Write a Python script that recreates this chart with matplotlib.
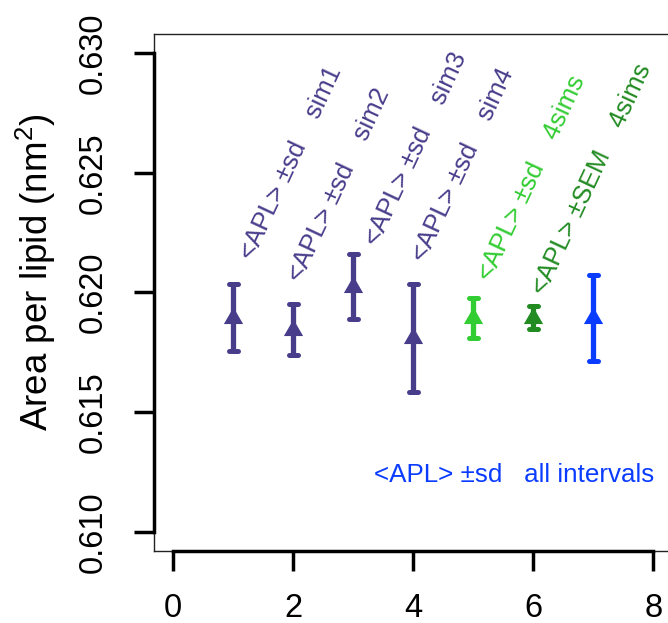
"""Area per lipid: mean and spread for the single runs and the pooled runs."""
import matplotlib
matplotlib.use("Agg")
import matplotlib.pyplot as plt
import numpy as np

plt.rcParams["font.family"] = ["Liberation Sans", "DejaVu Sans"]
plt.rcParams["mathtext.fontset"] = "custom"
plt.rcParams["mathtext.rm"] = "Liberation Sans"
plt.rcParams["mathtext.it"] = "Liberation Sans:italic"

# mean APL and its spread (sd or SEM) for each entry
run_index = [1, 2, 3, 4, 5, 6, 7]
apl_mean = [0.61895, 0.61845, 0.62025, 0.61809, 0.61894, 0.61895, 0.61894]
apl_spread = [0.00139, 0.00106, 0.00136, 0.00226, 0.00082, 0.00049, 0.00178]
run_labels = [
    "<APL> ±sd    sim1",
    "<APL> ±sd    sim2",
    "<APL> ±sd    sim3",
    "<APL> ±sd    sim4",
    "<APL> ±sd    4sims",
    "<APL> ±SEM    4sims",
]
all_label = "<APL> ±sd   all intervals"

# where the rotated labels start (data units)
label_x = [1.33, 2.14, 3.41, 4.20, 5.30, 6.20]
label_y = [0.62130, 0.62040, 0.62190, 0.62124, 0.62043, 0.61985]

PURPLE = "#483D8B"
colors = [PURPLE] * 4 + ["#32CD32", "#228B22", "#0A3CFF"]

# equilateral triangle centred on its centroid (like R's pch 17)
tri = [(0, 1), (-0.866, -0.5), (0.866, -0.5), (0, 1)]

fig = plt.figure(figsize=(6.68, 6.23), dpi=100)
ax = fig.add_axes([0.2302, 0.11525, 0.7764, 0.8305])

x = np.array(run_index, dtype=float)
mean = np.array(apl_mean)
spread = np.array(apl_spread)
lo, hi = mean - spread, mean + spread

ax.vlines(x, lo, hi, colors=colors, lw=3.8, capstyle="butt", zorder=2)
cap_w = 0.075
ax.hlines(np.r_[lo, hi], np.r_[x, x] - cap_w, np.r_[x, x] + cap_w,
          colors=colors + colors, lw=3.6, capstyle="round", zorder=2)
for xi, yi, c in zip(x, mean, colors):
    ax.plot(xi, yi, marker=tri, ms=16, color=c, mec="none", zorder=3)

for tx, ty, txt, c in zip(label_x, label_y, run_labels, colors):
    ax.text(tx, ty, txt, rotation=65, rotation_mode="anchor", ha="left",
            va="baseline", fontsize=18.5, color=c)
ax.text(3.35, 0.61210, all_label, ha="left", va="baseline", fontsize=18.7,
        color=colors[-1])

xt = [0, 2, 4, 6, 8]
yt = [0.610, 0.615, 0.620, 0.625, 0.630]
ax.set_xlim(-0.32, 8.32)
ax.set_ylim(0.6092, 0.6308)
ax.set_xticks(xt)
ax.set_yticks(yt)
ax.set_yticklabels([f"{v:.3f}" for v in yt], rotation=90, va="center")
ax.tick_params(width=2.5, length=14.4, labelsize=23.5, color="black")
ax.tick_params(axis="x", pad=16)
ax.tick_params(axis="y", pad=18)

for sp in ax.spines.values():
    sp.set_linewidth(1.0)
    sp.set_color("#222222")

# R-style axis lines running from first to last tick
ax.plot([-0.32, -0.32], [yt[0], yt[-1]], color="black", lw=2.5,
        clip_on=False, solid_capstyle="projecting", zorder=4)
ax.plot([xt[0], xt[-1]], [0.6092, 0.6092], color="black", lw=2.5,
        clip_on=False, solid_capstyle="projecting", zorder=4)

ax.set_ylabel("Area per lipid (nm$^2$)", fontsize=26.5)
ax.yaxis.set_label_coords(-0.185, 0.54)

fig.savefig("out.png", dpi=100)
